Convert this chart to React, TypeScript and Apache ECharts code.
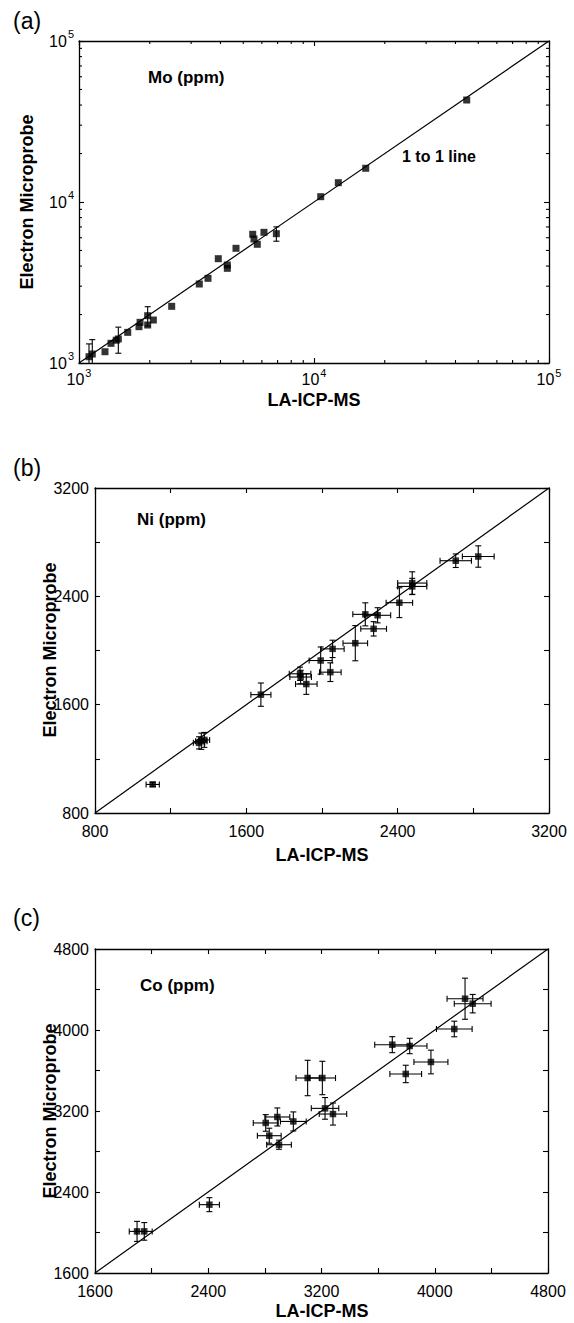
import React, { useEffect, useRef } from "react";
import * as echarts from "echarts";

// ---------- DATA ----------
// Panel (a) Mo (ppm): [LA-ICP-MS, Electron Microprobe]
const moPoints: [number, number][] = [
  [1103, 1094], [1139, 1137], [1290, 1175], [1368, 1325], [1440, 1385],
  [1470, 1410], [1612, 1550], [1800, 1681], [1819, 1789], [1960, 1967],
  [1960, 1722], [2072, 1849], [2480, 2249], [3250, 3095], [3540, 3357],
  [3915, 4445], [4277, 4061], [4277, 3873], [4657, 5157], [5485, 6301],
  [5555, 5891], [5737, 5461], [6125, 6483], [6915, 6357], [10680, 10790],
  [12690, 13180], [16600, 16200], [44650, 43000],
];
// [x, y, yError]
const moErrors: [number, number, number][] = [
  [1103, 1094, 220], [1139, 1137, 260], [1470, 1410, 260], [1960, 1967, 270], [6915, 6357, 650],
];
const moMajorTicks = [1000, 10000, 100000];
const moMinorTicks = [2000, 3000, 4000, 5000, 6000, 7000, 8000, 9000, 20000, 30000, 40000, 50000, 60000, 70000, 80000, 90000];

// Panel (b) Ni (ppm): [x, y, xErr, yErr]
const niPoints: [number, number, number, number][] = [
  [1105, 1011, 35, 15], [1350, 1318, 30, 45], [1362, 1330, 30, 60], [1378, 1340, 28, 55],
  [1677, 1674, 53, 86], [1884, 1828, 57, 49], [1887, 1804, 57, 50], [1917, 1752, 57, 76],
  [1993, 1926, 61, 100], [2044, 1840, 57, 69], [2056, 2012, 61, 64], [2176, 2054, 65, 130],
  [2229, 2267, 66, 85], [2294, 2260, 69, 56], [2273, 2160, 68, 53], [2409, 2353, 70, 110],
  [2477, 2498, 77, 83], [2477, 2473, 77, 60], [2707, 2663, 83, 50], [2826, 2694, 84, 79],
];
const niTickLabels = [800, 1600, 2400, 3200];

// Panel (c) Co (ppm): [x, y, xErr, yErr]
const coPoints: [number, number, number, number][] = [
  [1897, 2011, 55, 99], [1948, 2011, 56, 87], [2408, 2275, 71, 69], [2806, 3082, 88, 82],
  [2831, 2956, 84, 74], [2888, 3141, 88, 89], [2900, 2867, 87, 45], [3001, 3097, 91, 94],
  [3102, 3526, 82, 175], [3206, 3526, 93, 165], [3225, 3226, 97, 107], [3281, 3170, 97, 109],
  [3700, 3855, 124, 79], [3823, 3842, 122, 76], [3795, 3566, 112, 86], [3973, 3684, 120, 117],
  [4138, 4010, 126, 77], [4214, 4309, 127, 203], [4268, 4260, 130, 91],
];
const coTickLabels = [1600, 2400, 3200, 4000, 4800];

// ---------- HELPERS ----------
const FONT = "'Liberation Sans', Arial, Helvetica, sans-serif";
const BLACK = "#000";

const seg = (x1: number, y1: number, x2: number, y2: number) => ({
  type: "line",
  shape: { x1, y1, x2, y2 },
  style: { stroke: BLACK, lineWidth: 1.1 },
});

function errorBarItem(params: any, api: any) {
  const x = api.value(0);
  const y = api.value(1);
  const xe = api.value(2);
  const ye = api.value(3);
  const cap = 3;
  const children: any[] = [];
  if (ye > 0) {
    const t = api.coord([x, y + ye]);
    const b = api.coord([x, y - ye]);
    children.push(seg(t[0], t[1], b[0], b[1]));
    children.push(seg(t[0] - cap, t[1], t[0] + cap, t[1]));
    children.push(seg(b[0] - cap, b[1], b[0] + cap, b[1]));
  }
  if (xe > 0) {
    const l = api.coord([x - xe, y]);
    const r = api.coord([x + xe, y]);
    children.push(seg(l[0], l[1], r[0], r[1]));
    children.push(seg(l[0], l[1] - cap, l[0], l[1] + cap));
    children.push(seg(r[0], r[1] - cap, r[0], r[1] + cap));
  }
  return { type: "group", children };
}

const boxLine = { show: true, onZero: false, lineStyle: { color: BLACK, width: 1.3 } };

function linAxis(min: number, max: number, gridIndex: number, position: string, labels: boolean, labelValues: number[], margin: number) {
  return {
    type: "value",
    gridIndex,
    position,
    min,
    max,
    interval: 400,
    axisLine: boxLine,
    axisTick: { show: true, inside: true, length: 5, lineStyle: { color: BLACK, width: 1.1 } },
    splitLine: { show: false },
    axisLabel: {
      show: labels,
      color: BLACK,
      fontSize: 16,
      fontFamily: FONT,
      margin,
      formatter: (v: number) => (labelValues.indexOf(v) >= 0 ? String(v) : ""),
    },
  };
}

function logAxis(gridIndex: number, position: string, labels: boolean, margin: number) {
  return {
    type: "log",
    logBase: 10,
    gridIndex,
    position,
    min: moMajorTicks[0],
    max: moMajorTicks[moMajorTicks.length - 1],
    axisLine: boxLine,
    axisTick: { show: true, inside: true, length: 5, lineStyle: { color: BLACK, width: 1.1 } },
    splitLine: { show: false },
    axisLabel: {
      show: labels,
      margin,
      formatter: (v: number) => "{b|10}{s|" + Math.round(Math.log10(v)) + "}",
      rich: {
        b: { fontSize: 16, fontFamily: FONT, color: BLACK },
        s: { fontSize: 11, fontFamily: FONT, color: BLACK, padding: [0, 0, 14, 1] },
      },
    },
  };
}

function txt(text: string, x: number, y: number, size: number, bold: boolean, align = "left", rotation = 0) {
  return {
    type: "text",
    x,
    y,
    rotation,
    silent: true,
    style: {
      text,
      fill: BLACK,
      fontSize: size,
      fontWeight: bold ? "bold" : "normal",
      fontFamily: FONT,
      align,
      verticalAlign: "middle",
    },
  };
}

export default function App() {
  const ref = useRef<HTMLDivElement>(null);

  useEffect(() => {
    if (!ref.current) return;
    const chart = echarts.init(ref.current, undefined, { renderer: "svg" });

    const grids = [
      { left: 79, top: 41, width: 470, height: 322 },
      { left: 95, top: 488, width: 454, height: 325 },
      { left: 95, top: 949, width: 453, height: 324 },
    ];

    const option: any = {
      animation: false,
      backgroundColor: "#fff",
      grid: grids.map((g) => ({ ...g, containLabel: false })),
      xAxis: [
        logAxis(0, "bottom", true, 4),
        logAxis(0, "top", false, 4),
        linAxis(800, 3200, 1, "bottom", true, niTickLabels, 10),
        linAxis(800, 3200, 1, "top", false, niTickLabels, 10),
        linAxis(1600, 4800, 2, "bottom", true, coTickLabels, 10),
        linAxis(1600, 4800, 2, "top", false, coTickLabels, 10),
      ],
      yAxis: [
        logAxis(0, "left", true, 5),
        logAxis(0, "right", false, 5),
        linAxis(800, 3200, 1, "left", true, niTickLabels, 6),
        linAxis(800, 3200, 1, "right", false, niTickLabels, 6),
        linAxis(1600, 4800, 2, "left", true, coTickLabels, 6),
        linAxis(1600, 4800, 2, "right", false, coTickLabels, 6),
      ],
      series: [
        // Panel a
        {
          type: "line",
          xAxisIndex: 0,
          yAxisIndex: 0,
          data: [[moMajorTicks[0], moMajorTicks[0]], [moMajorTicks[2], moMajorTicks[2]]],
          showSymbol: false,
          lineStyle: { color: BLACK, width: 1.2 },
          silent: true,
          z: 2,
        },
        {
          type: "custom",
          xAxisIndex: 0,
          yAxisIndex: 0,
          clip: false,
          data: moMinorTicks.map((v) => [v, v]),
          encode: { x: 0, y: 1 },
          renderItem: (params: any, api: any) => {
            const v = api.value(0);
            const cs = params.coordSys;
            const px = api.coord([v, moMajorTicks[0]])[0];
            const py = api.coord([moMajorTicks[0], v])[1];
            const L = 3;
            return {
              type: "group",
              children: [
                seg(px, cs.y + cs.height, px, cs.y + cs.height - L),
                seg(px, cs.y, px, cs.y + L),
                seg(cs.x, py, cs.x + L, py),
                seg(cs.x + cs.width, py, cs.x + cs.width - L, py),
              ],
            };
          },
          z: 3,
        },
        {
          type: "custom",
          xAxisIndex: 0,
          yAxisIndex: 0,
          clip: true,
          data: moErrors.map((d) => [d[0], d[1], 0, d[2]]),
          encode: { x: 0, y: 1 },
          renderItem: errorBarItem,
          z: 4,
        },
        {
          type: "scatter",
          xAxisIndex: 0,
          yAxisIndex: 0,
          data: moPoints,
          symbol: "rect",
          symbolSize: 7,
          itemStyle: { color: BLACK },
          z: 5,
        },
        // Panel b
        {
          type: "line",
          xAxisIndex: 2,
          yAxisIndex: 2,
          data: [[800, 800], [3200, 3200]],
          showSymbol: false,
          lineStyle: { color: BLACK, width: 1.2 },
          silent: true,
          z: 2,
        },
        {
          type: "custom",
          xAxisIndex: 2,
          yAxisIndex: 2,
          data: niPoints,
          encode: { x: 0, y: 1 },
          renderItem: errorBarItem,
          z: 4,
        },
        {
          type: "scatter",
          xAxisIndex: 2,
          yAxisIndex: 2,
          data: niPoints.map((d) => [d[0], d[1]]),
          symbol: "rect",
          symbolSize: 6.5,
          itemStyle: { color: BLACK },
          z: 5,
        },
        // Panel c
        {
          type: "line",
          xAxisIndex: 4,
          yAxisIndex: 4,
          data: [[1600, 1600], [4800, 4800]],
          showSymbol: false,
          lineStyle: { color: BLACK, width: 1.2 },
          silent: true,
          z: 2,
        },
        {
          type: "custom",
          xAxisIndex: 4,
          yAxisIndex: 4,
          data: coPoints,
          encode: { x: 0, y: 1 },
          renderItem: errorBarItem,
          z: 4,
        },
        {
          type: "scatter",
          xAxisIndex: 4,
          yAxisIndex: 4,
          data: coPoints.map((d) => [d[0], d[1]]),
          symbol: "rect",
          symbolSize: 6.5,
          itemStyle: { color: BLACK },
          z: 5,
        },
      ],
      graphic: [
        txt("(a)", 13, 21, 23, false),
        txt("(b)", 13, 468, 23, false),
        txt("(c)", 13, 918, 23, false),
        txt("Mo (ppm)", 148, 77, 17, true),
        txt("1 to 1 line", 402, 156, 16, true),
        txt("Ni (ppm)", 137, 519, 17, true),
        txt("Co (ppm)", 140, 985, 17, true),
        txt("LA-ICP-MS", 314, 400, 18, true, "center"),
        txt("LA-ICP-MS", 322, 855, 18, true, "center"),
        txt("LA-ICP-MS", 322, 1311, 18, true, "center"),
        txt("Electron Microprobe", 27, 202, 18, true, "center", Math.PI / 2),
        txt("Electron Microprobe", 50, 650, 18, true, "center", Math.PI / 2),
        txt("Electron Microprobe", 50, 1111, 18, true, "center", Math.PI / 2),
      ],
    };

    chart.setOption(option);
    return () => chart.dispose();
  }, []);

  return (
    <div
      ref={ref}
      style={{ position: "absolute", left: 0, top: 0, width: 574, height: 1323, background: "#fff" }}
    />
  );
}
